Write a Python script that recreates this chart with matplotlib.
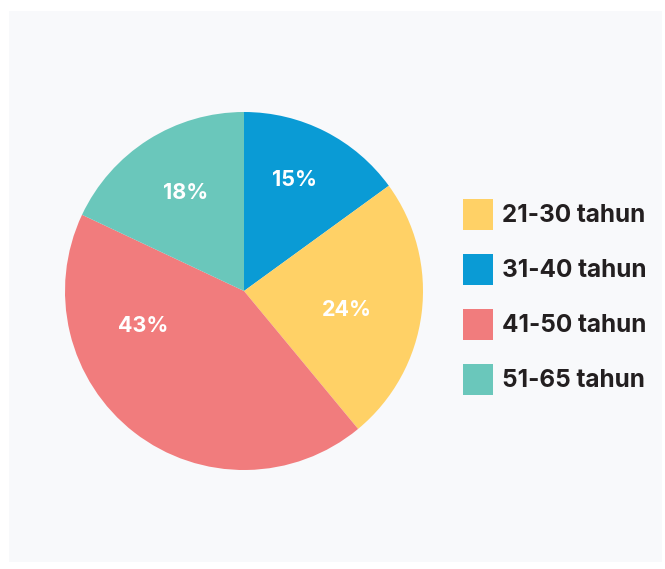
import matplotlib
matplotlib.use("Agg")
import matplotlib.pyplot as plt
from matplotlib.patches import Rectangle, Patch

# Data (clockwise from top)
labels = ["31-40 tahun", "21-30 tahun", "41-50 tahun", "51-65 tahun"]
values = [15, 24, 43, 18]
colors = ["#0A9BD5", "#FFD166", "#F17C7D", "#6AC7BB"]
legend_order = ["21-30 tahun", "31-40 tahun", "41-50 tahun", "51-65 tahun"]

# label placement (layout, in pie-radius units)
label_pos = [(0.28, 0.62), (0.575, -0.105), (-0.565, -0.195), (-0.325, 0.55)]

W, H = 665, 569
fig = plt.figure(figsize=(W / 100, H / 100), dpi=100)
fig.patch.set_facecolor("white")
fig.patches.append(Rectangle((9 / W, 1 - 562 / H), (662 - 9) / W, (562 - 11) / H,
                             transform=fig.transFigure, facecolor="#F8F9FB",
                             edgecolor="none", zorder=-10))

cx, cy, r = 244, 291, 179
ax = fig.add_axes([(cx - r) / W, 1 - (cy + r) / H, 2 * r / W, 2 * r / H])
ax.set_facecolor("none")
wedges, texts, autotexts = ax.pie(
    values, colors=colors, startangle=90, counterclock=False,
    autopct=lambda p: f"{p:.0f}%", pctdistance=0.62,
    wedgeprops=dict(linewidth=0),
    textprops=dict(color="white", fontsize=15.5, fontweight="bold", family="Inter"))
ax.set_aspect("equal")
ax.set_xlim(-1, 1)
ax.set_ylim(-1, 1)
ax.axis("off")

for t, pos in zip(autotexts, label_pos):
    t.set_position(pos)

handles = [Patch(facecolor=colors[labels.index(l)], edgecolor="none") for l in legend_order]
leg = fig.legend(handles, legend_order, loc="upper left",
                 bbox_to_anchor=(463 / W, 1 - 199 / H), frameon=False,
                 borderpad=0, borderaxespad=0, handlelength=1.23, handleheight=1.58,
                 handletextpad=0.36, labelspacing=0.99,
                 prop=dict(family="Inter", weight="bold", size=17.5))
for txt in leg.get_texts():
    txt.set_color("#231F20")

fig.savefig("out.png", dpi=100, facecolor=fig.get_facecolor())
